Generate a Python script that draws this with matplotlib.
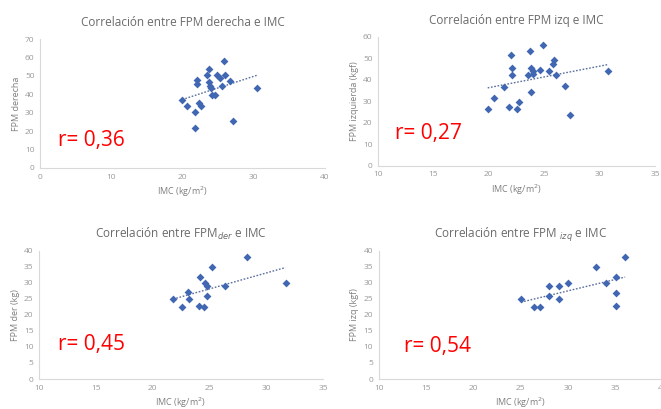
import numpy as np
import matplotlib
matplotlib.use("Agg")
import matplotlib.pyplot as plt

plt.rcParams["font.family"] = ["Open Sans", "DejaVu Sans"]

# Panel 1: FPM derecha vs IMC
imc_1 = [19.95, 20.6, 21.7, 21.8, 22.1, 22.1, 22.3, 22.6, 23.4, 23.7, 23.7, 23.8,
         24.0, 24.1, 24.5, 24.8, 25.2, 25.6, 25.8, 26.0, 26.7, 27.1, 30.5]
fpm_1 = [36.7, 33.5, 21.9, 30.6, 47.6, 45.8, 35.3, 33.5, 50.5, 53.5, 46.7, 44.7,
         43.4, 39.4, 39.4, 50.5, 48.6, 44.3, 58.0, 50.5, 47.2, 25.7, 43.6]

# Panel 2: FPM izq vs IMC
imc_2 = [19.9, 20.5, 21.35, 21.8, 22.0, 22.1, 22.1, 22.5, 22.7, 23.5, 23.75, 23.8,
         23.8, 24.0, 24.0, 24.6, 24.9, 25.4, 25.8, 25.9, 26.1, 26.9, 27.3, 30.8]
fpm_2 = [26.5, 31.5, 36.4, 27.4, 51.3, 45.4, 42.3, 26.5, 29.5, 42.3, 53.3, 45.4,
         34.3, 44.2, 42.6, 44.3, 56.3, 43.9, 47.3, 49.1, 42.3, 37.2, 23.4, 43.9]

# Panel 3: FPM der vs IMC
imc_3 = [21.8, 22.6, 23.1, 23.2, 24.1, 24.2, 24.5, 24.6, 24.8, 24.8, 25.2, 26.4, 28.3, 31.7]
fpm_3 = [24.9, 22.4, 27.0, 24.9, 22.9, 31.9, 22.3, 29.9, 28.9, 25.9, 34.9, 28.9, 37.9, 29.8]

# Panel 4: FPM izq vs IMC
imc_4 = [25.0, 26.4, 27.0, 28.0, 28.0, 29.0, 29.0, 30.0, 32.9, 34.0, 35.0, 35.0, 35.0, 36.0]
fpm_4 = [24.9, 22.4, 22.4, 25.9, 28.9, 24.9, 28.9, 29.8, 34.9, 29.8, 31.9, 26.9, 22.8, 37.9]

titles = ["Correlación entre FPM derecha e IMC",
          "Correlación entre FPM izq e IMC",
          "Correlación entre FPM$_{der}$ e IMC",
          "Correlación entre FPM $_{izq}$ e IMC"]
ylabels = ["FPM derecha", "FPM izquierda (kgf)", "FPM der (kg)", "FPM izq (kgf)"]
xlabel = "IMC (kg/m$^2$)"
r_labels = ["r= 0,36", "r= 0,27", "r= 0,45", "r= 0,54"]

W, H = 661, 409
# axes boxes in pixels: left, right, top, bottom
boxes = [(40, 325, 39, 168), (378, 655, 36.7, 165.7),
         (39, 323, 250.7, 379), (378.7, 663, 250.7, 379)]
xlims = [(0, 40), (10, 35), (10, 35), (10, 40)]
ylims = [(0, 70), (0, 60), (0, 40), (0, 40)]
xsteps = [10, 5, 5, 5]
ysteps = [10, 10, 5, 5]
r_pos = [(58, 146), (395, 139), (58, 350), (404, 352)]

data = [(imc_1, fpm_1), (imc_2, fpm_2), (imc_3, fpm_3), (imc_4, fpm_4)]

fig = plt.figure(figsize=(W / 100, H / 100), dpi=100)
gray = "#7f7f7f"
dot_color = "#4267b2"

for i, (x, y) in enumerate(data):
    l, r, t, b = boxes[i]
    ax = fig.add_axes([l / W, (H - b) / H, (r - l) / W, (b - t) / H])
    ax.scatter(x, y, s=16, marker="D", color=dot_color, zorder=3, linewidths=0)
    m, c = np.polyfit(x, y, 1)
    xs = np.array([min(x), max(x)])
    ax.plot(xs, m * xs + c, linestyle=(0, (1.2, 1.2)), color="#5a6f9e", linewidth=1.0)
    ax.set_xlim(*xlims[i])
    ax.set_ylim(*ylims[i])
    ax.set_xticks(np.arange(xlims[i][0], xlims[i][1] + 0.1, xsteps[i]))
    ax.set_yticks(np.arange(ylims[i][0], ylims[i][1] + 0.1, ysteps[i]))
    for side in ["top", "right"]:
        ax.spines[side].set_visible(False)
    for side in ["left", "bottom"]:
        ax.spines[side].set_color("#d9d9d9")
    ax.tick_params(length=0, labelsize=6, colors="#999999", pad=4)
    ax.set_xlabel(xlabel, fontsize=6.5, color=gray, labelpad=3)
    ax.set_ylabel(ylabels[i], fontsize=6.5, color=gray, labelpad=3)
    ax.set_title(titles[i], fontsize=8.5, color="#6b6b6b", pad=9)
    fig.text(r_pos[i][0] / W, 1 - r_pos[i][1] / H, r_labels[i], fontsize=15,
             color="#ff0000", va="baseline", ha="left")

fig.savefig("out.png", dpi=100)
